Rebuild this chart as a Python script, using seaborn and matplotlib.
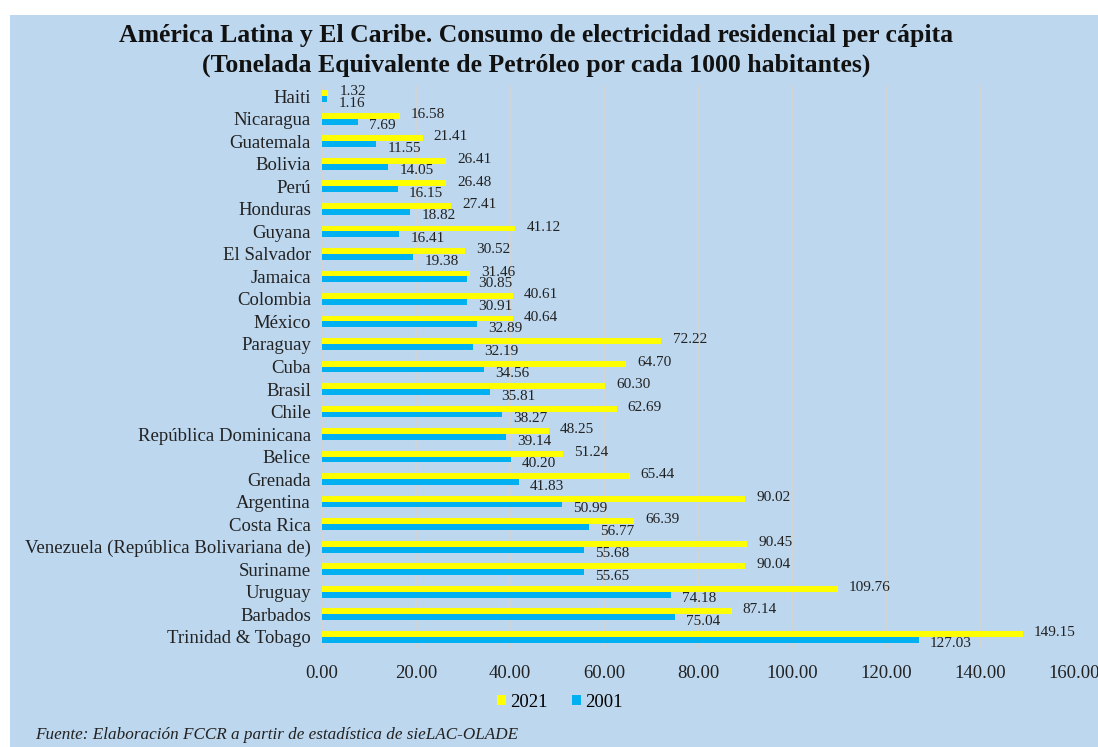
import pandas as pd
import matplotlib.pyplot as plt
import matplotlib.patches as mpatches
import seaborn as sns

countries = ['Haiti', 'Nicaragua', 'Guatemala', 'Bolivia', 'Perú', 'Honduras', 'Guyana',
             'El Salvador', 'Jamaica', 'Colombia', 'México', 'Paraguay', 'Cuba', 'Brasil',
             'Chile', 'República Dominicana', 'Belice', 'Grenada', 'Argentina', 'Costa Rica',
             'Venezuela (República Bolivariana de)', 'Suriname', 'Uruguay', 'Barbados',
             'Trinidad & Tobago']
v2021 = [1.32, 16.58, 21.41, 26.41, 26.48, 27.41, 41.12, 30.52, 31.46, 40.61, 40.64, 72.22,
         64.70, 60.30, 62.69, 48.25, 51.24, 65.44, 90.02, 66.39, 90.45, 90.04, 109.76, 87.14,
         149.15]
v2001 = [1.16, 7.69, 11.55, 14.05, 16.15, 18.82, 16.41, 19.38, 30.85, 30.91, 32.89, 32.19,
         34.56, 35.81, 38.27, 39.14, 40.20, 41.83, 50.99, 56.77, 55.68, 55.65, 74.18, 75.04,
         127.03]
years = ['2021', '2001']

df = pd.concat([
    pd.DataFrame({'pais': countries, 'valor': v2021, 'anio': '2021'}),
    pd.DataFrame({'pais': countries, 'valor': v2001, 'anio': '2001'}),
])

bg = '#BDD7EE'
plt.rcParams['font.family'] = ['Liberation Serif', 'DejaVu Serif']

fig = plt.figure(figsize=(10.98, 7.47), dpi=100, facecolor='white')
# fondo azul claro con franja blanca arriba/izquierda
fig.patches.append(mpatches.Rectangle((10 / 1098, 0), 1, 1 - 15 / 747, transform=fig.transFigure,
                                      facecolor=bg, edgecolor='none', zorder=-10))
ax = fig.add_axes([0.2933, 0.1325, 0.6848, 0.7537])
ax.set_facecolor(bg)

sns.barplot(data=df, x='valor', y='pais', hue='anio', hue_order=years, order=countries,
            palette={'2021': '#FFFF00', '2001': '#00B0F0'}, width=0.52, orient='h',
            saturation=1, ax=ax)

# etiquetas de datos: 2021 un poco arriba, 2001 un poco abajo
for cont, dy in zip(ax.containers, [1.0, -3.0]):
    for bar in cont:
        ax.annotate(f'{bar.get_width():.2f}',
                    xy=(bar.get_width(), bar.get_y() + bar.get_height() / 2),
                    xytext=(8, dy), textcoords='offset points',
                    ha='left', va='center', fontsize=11, color='#222222')

ax.set_xlim(0, 160)
ax.set_ylim(24.5, -0.5)
ax.set_xticks(range(0, 161, 20))
ax.set_xticklabels([f'{t:.2f}' for t in range(0, 161, 20)])
ax.grid(axis='x', color='#D4D4D4', linewidth=1.3)
ax.set_axisbelow(True)
ax.tick_params(length=0, labelsize=13.5, colors='#222222')
ax.tick_params(axis='x', pad=12)
ax.tick_params(axis='y', pad=8)
ax.set_xlabel('')
ax.set_ylabel('')
for s in ax.spines.values():
    s.set_visible(False)

handles, labels = ax.get_legend_handles_labels()
ax.legend_.remove()
fig.legend(handles, labels, loc='center', bbox_to_anchor=(0.510, 0.060), ncol=2,
           frameon=False, handlelength=0.45, handleheight=0.45, handletextpad=0.25,
           columnspacing=1.3, fontsize=13.5)

fig.text(0.488, 0.953, 'América Latina y El Caribe. Consumo de electricidad residencial per cápita',
         ha='center', va='center', fontsize=18.5, fontweight='bold', color='#111111')
fig.text(0.488, 0.912, '(Tonelada Equivalente de Petróleo por cada 1000 habitantes)',
         ha='center', va='center', fontsize=18.5, fontweight='bold', color='#111111')
fig.text(0.032, 0.016, 'Fuente: Elaboración FCCR a partir de estadística de sieLAC-OLADE',
         ha='left', va='center', fontsize=12.3, style='italic', color='#222222')

fig.savefig('out.png', dpi=100, facecolor=fig.get_facecolor())
